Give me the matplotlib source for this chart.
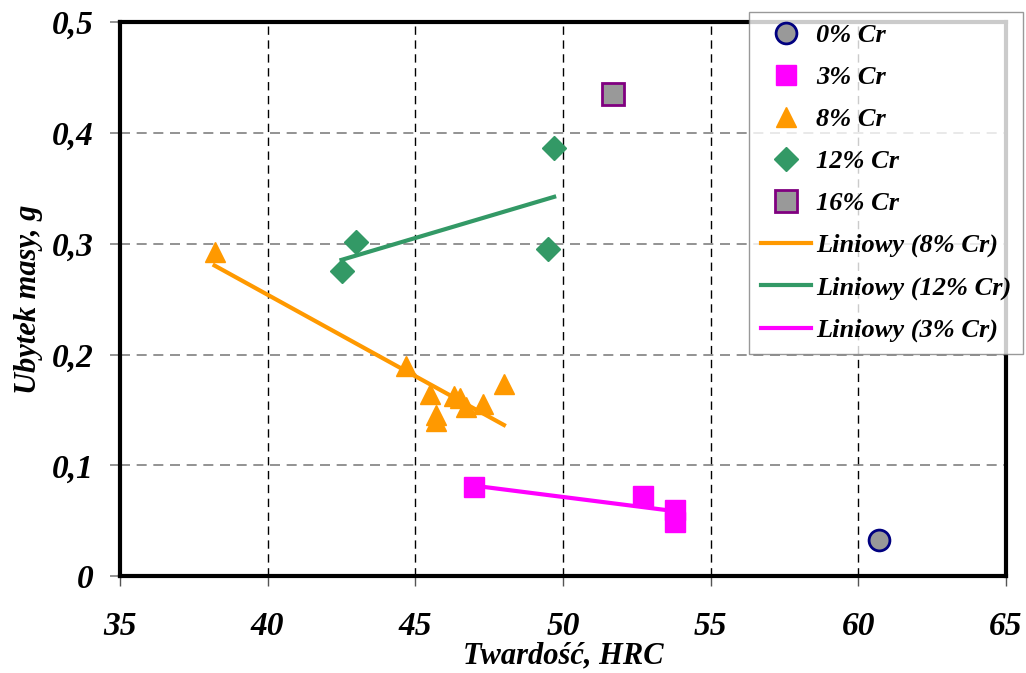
import matplotlib
matplotlib.use("Agg")
import matplotlib.pyplot as plt
from matplotlib.ticker import FuncFormatter
import numpy as np

# dane
hrc_0 = [60.7]
ubytek_0 = [0.033]

hrc_3 = [47.0, 52.7, 53.8, 53.8]
ubytek_3 = [0.080, 0.072, 0.060, 0.049]

hrc_8 = [38.2, 44.7, 45.5, 45.7, 45.7, 46.3, 46.5, 46.7, 47.3, 48.0]
ubytek_8 = [0.293, 0.190, 0.164, 0.145, 0.140, 0.163, 0.161, 0.153, 0.155, 0.173]

hrc_12 = [42.5, 43.0, 49.5, 49.7]
ubytek_12 = [0.275, 0.302, 0.295, 0.386]

hrc_16 = [51.7]
ubytek_16 = [0.435]

plt.rcParams["font.family"] = "Liberation Serif"
plt.rcParams["font.weight"] = "bold"
plt.rcParams["font.style"] = "italic"
plt.rcParams["axes.labelweight"] = "bold"

fig = plt.figure(figsize=(10.26, 6.73), dpi=100)
ax = fig.add_axes([0.117, 0.144, 0.8635, 0.823])

ax.plot(hrc_0, ubytek_0, "o", ms=15, mfc="#999999", mec="#000080", mew=2, label="0% Cr", zorder=5)
ax.plot(hrc_3, ubytek_3, "s", ms=14, color="#FF00FF", label="3% Cr", zorder=5)
ax.plot(hrc_8, ubytek_8, "^", ms=15, color="#FF9900", label="8% Cr", zorder=5)
ax.plot(hrc_12, ubytek_12, "D", ms=12, color="#339966", label="12% Cr", zorder=5)
ax.plot(hrc_16, ubytek_16, "s", ms=16, mfc="#999999", mec="#800080", mew=2, label="16% Cr", zorder=5)

# linie trendu (liniowe)
def trend(x, y, color, label):
    a, b = np.polyfit(x, y, 1)
    xs = np.array([min(x), max(x)])
    ax.plot(xs, a * xs + b, "-", color=color, lw=3, label=label, zorder=4)

trend(hrc_8, ubytek_8, "#FF9900", "Liniowy (8% Cr)")
trend(hrc_12, ubytek_12, "#339966", "Liniowy (12% Cr)")
trend(hrc_3, ubytek_3, "#FF00FF", "Liniowy (3% Cr)")

ax.set_xlim(35, 65)
ax.set_ylim(0, 0.5)
ax.set_xticks(np.arange(35, 66, 5))
ax.set_yticks(np.arange(0, 0.51, 0.1))
ax.yaxis.set_major_formatter(FuncFormatter(lambda v, p: "0" if abs(v) < 1e-9 else f"{v:.1f}".replace(".", ",")))
ax.tick_params(axis="x", labelsize=24, length=7, width=1, color="#555555", pad=18)
ax.tick_params(axis="y", labelsize=24, length=7, width=1.2, color="#808080", pad=12)

ax.xaxis.grid(True, linestyle=(0, (6, 4)), color="black", lw=1)
ax.yaxis.grid(True, linestyle=(0, (6, 4)), color="#808080", lw=1.2)
ax.set_axisbelow(True)
for s in ax.spines.values():
    s.set_linewidth(3)

ax.set_xlabel("Twardość, HRC", fontsize=22, labelpad=0)
ax.set_ylabel("Ubytek masy, g", fontsize=22, labelpad=6)

leg = ax.legend(loc="upper left", bbox_to_anchor=(749 / 1026, 1 - 12 / 673), bbox_transform=fig.transFigure,
                fontsize=19, frameon=True, fancybox=False, edgecolor="#808080", borderpad=0.45,
                labelspacing=0.7, handlelength=1.9, handletextpad=0.2, borderaxespad=0)
leg.get_frame().set_linewidth(1)
leg.set_zorder(10)

fig.savefig("out.png", dpi=100)
